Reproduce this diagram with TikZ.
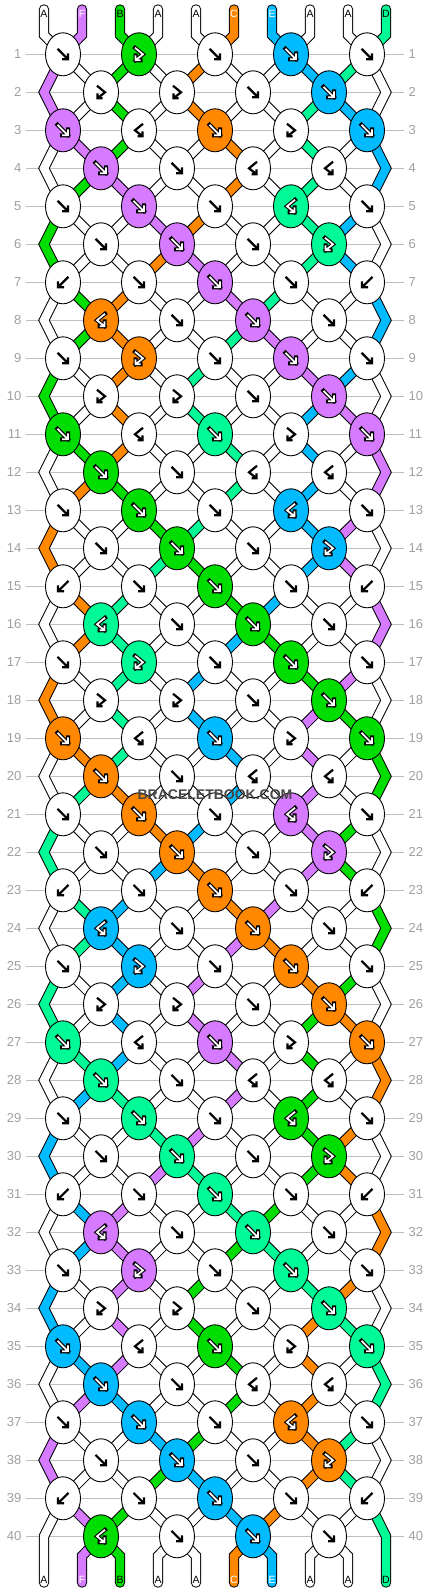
\documentclass[tikz,border=0pt]{standalone}
\usepackage{fontspec}
\setmainfont{Liberation Sans}
\usetikzlibrary{shapes.geometric}

\pgfdeclarelayer{front}
\pgfsetlayers{main,front}

\definecolor{colA}{HTML}{FFFFFF}
\definecolor{colF}{HTML}{D67AFF}
\definecolor{colB}{HTML}{00DD00}
\definecolor{colC}{HTML}{FF8800}
\definecolor{colE}{HTML}{00BBFF}
\definecolor{colD}{HTML}{00FA96}
\colorlet{txtA}{black}
\colorlet{txtF}{white}
\colorlet{txtB}{black}
\colorlet{txtC}{white}
\colorlet{txtE}{white}
\colorlet{txtD}{black}
\definecolor{rowgray}{HTML}{BDBDBD}
\definecolor{numgray}{HTML}{A0A0A0}

% strings, left to right
\def\stringletters{A,F,B,A,A,C,E,A,A,D}
% knots of the 8 rows that repeat (f, b, fb, bf)
\newcommand\rowtypes[1]{\ifcase#1 f,fb,f,f,f\or fb,fb,f,f\or f,bf,f,fb,f\or%
  f,f,bf,bf\or f,f,f,bf,f\or f,f,f,fb\or b,f,f,f,b\or bf,f,f,f\fi}

\def\typef{f}\def\typeb{b}\def\typefb{fb}\def\typebf{bf}
\def\whiteletter{A}

% which string sits at a position, and the path of each string
\newcommand\setpos[2]{\expandafter\xdef\csname pos#1\endcsname{#2}}
\newcommand\getpos[1]{\csname pos#1\endcsname}
\newcommand\addpt[2]{\expandafter\xdef\csname trail#1\endcsname{\csname trail#1\endcsname -- #2}}

% one knot: row, index in row, type
\newcommand\knot[3]{%
  \pgfmathtruncatemacro\rowodd{mod(#1,2)}%
  \ifnum\rowodd=1
    \pgfmathtruncatemacro\posl{2*#2-1}%
    \pgfmathsetmacro\kx{63+76*(#2-1)}%
  \else
    \pgfmathtruncatemacro\posl{2*#2}%
    \pgfmathsetmacro\kx{101+76*(#2-1)}%
  \fi
  \pgfmathtruncatemacro\posr{\posl+1}%
  \pgfmathsetmacro\ky{54.3+38*(#1-1)}%
  \edef\idl{\getpos{\posl}}\edef\idr{\getpos{\posr}}%
  \addpt{\idl}{(k#1-#2.center)}\addpt{\idr}{(k#1-#2.center)}%
  \edef\kt{#3}%
  \ifx\kt\typef \let\kid\idl \setpos{\posl}{\idr}\setpos{\posr}{\idl}\fi
  \ifx\kt\typeb \let\kid\idr \setpos{\posl}{\idr}\setpos{\posr}{\idl}\fi
  \ifx\kt\typefb \let\kid\idl \fi
  \ifx\kt\typebf \let\kid\idr \fi
  \edef\kl{\csname let\kid\endcsname}%
  \begin{pgfonlayer}{front}
    \node[knotnode,fill=col\kl] (k#1-#2) at (\kx,\ky) {};
    \ifx\kl\whiteletter
      \edef\tmp{\noexpand\pic[glyphdark] at (\kx,\ky) {glyph\kt};}\tmp
    \else
      \edef\tmp{\noexpand\pic[glyphhalo] at (\kx,\ky) {glyph\kt};
        \noexpand\pic[glyphlight] at (\kx,\ky) {glyph\kt};}\tmp
    \fi
  \end{pgfonlayer}%
}

\begin{document}
\begin{tikzpicture}[x=1pt,y=-1pt,
    knotnode/.style={ellipse,draw=black,line width=0.9pt,minimum width=35pt,minimum height=43pt,inner sep=0pt},
    strandedge/.style={draw=black,line width=10.4pt,line cap=round,line join=miter},
    strand/.style={line width=8.4pt,line cap=round,line join=miter},
    rowline/.style={draw=rowgray,line width=1.2pt},
    rownum/.style={text=numgray,font=\fontsize{13}{13}\selectfont,inner sep=0pt},
    endlabel/.style={font=\fontsize{10.5}{10.5}\selectfont,inner sep=0pt},
    glyphdark/.style={draw=black,line width=2.2pt},
    glyphhalo/.style={draw=black,line width=4pt,line cap=rect},
    glyphlight/.style={draw=white,line width=1.8pt},
    glyphf/.pic={\draw[pic actions] (-5.5,-5.5) -- (5,5) (-1,5) -- (5,5) -- (5,-1);},
    glyphb/.pic={\draw[pic actions] (5.5,-5.5) -- (-5,5) (1,5) -- (-5,5) -- (-5,-1);},
    glyphfb/.pic={\draw[pic actions] (-4,-6.5) -- (4,0) -- (-3.5,6) (1.5,6) -- (-3.5,6) -- (-3.5,1);},
    glyphbf/.pic={\draw[pic actions] (4,-6.5) -- (-4,0) -- (3.5,6) (-1.5,6) -- (3.5,6) -- (3.5,1);}]

  \fill[white] (0,0) rectangle (430,1592);
  \useasboundingbox (0,0) rectangle (430,1592);

  % row lines and numbers
  \foreach \rw in {1,...,40} {
    \pgfmathsetmacro\ky{54.3+38*(\rw-1)}
    \draw[rowline] (26,\ky) -- (404,\ky);
    \node[rownum,anchor=east] (numl\rw) at (21.5,\ky) {\rw};
    \node[rownum,anchor=west] (numr\rw) at (408.5,\ky) {\rw};
  }

  % ends of the strings
  \foreach \sn [count=\si] in \stringletters {
    \pgfmathsetmacro\sx{44+38*(\si-1)}
    \coordinate (top\si) at (\sx,9.5);
    \coordinate (bend\si) at (\sx,35);
    \coordinate (foot\si) at (\sx,1556);
    \coordinate (end\si) at (\sx,1582.5);
    \setpos{\si}{\si}
    \expandafter\xdef\csname let\si\endcsname{\sn}
    \expandafter\xdef\csname trail\si\endcsname{(top\si) -- (bend\si)}
  }

  % knots, row by row
  \foreach \rw in {1,...,40} {
    \pgfmathsetmacro\ky{54.3+38*(\rw-1)}
    \ifodd\rw\relax\else
      \coordinate (edgel\rw) at (44,\ky);
      \coordinate (edger\rw) at (386,\ky);
      \addpt{\getpos{1}}{(edgel\rw)}
      \addpt{\getpos{10}}{(edger\rw)}
    \fi
    \pgfmathtruncatemacro\ph{mod(\rw-1,8)}
    \edef\types{\rowtypes{\ph}}
    \foreach \kty [count=\kn] in \types {\knot{\rw}{\kn}{\kty}}
  }
  \foreach \si in {1,...,10} {\addpt{\getpos{\si}}{(foot\si) -- (end\si)}}

  % strings
  \foreach \si in {1,...,10} {
    \edef\slet{\csname let\si\endcsname}
    \edef\strandpath{\csname trail\si\endcsname}
    \edef\tmp{\noexpand\draw[strandedge] \strandpath;
      \noexpand\draw[strand,draw=col\slet] \strandpath;}
    \tmp
  }

  % letters at both ends
  \foreach \sn [count=\si] in \stringletters {
    \pgfmathsetmacro\sx{44+38*(\si-1)}
    \edef\blet{\csname let\getpos{\si}\endcsname}
    \node[endlabel,text=txt\sn] (tl\si) at (\sx,13.5) {\sn};
    \node[endlabel,text=txt\blet] (bl\si) at (\sx,1580) {\blet};
  }

  \begin{pgfonlayer}{front}
    \node[font=\bfseries\fontsize{14}{14}\selectfont,text=black!72] (mark) at (215,795) {BRACELETBOOK.COM};
  \end{pgfonlayer}
\end{tikzpicture}
\end{document}
